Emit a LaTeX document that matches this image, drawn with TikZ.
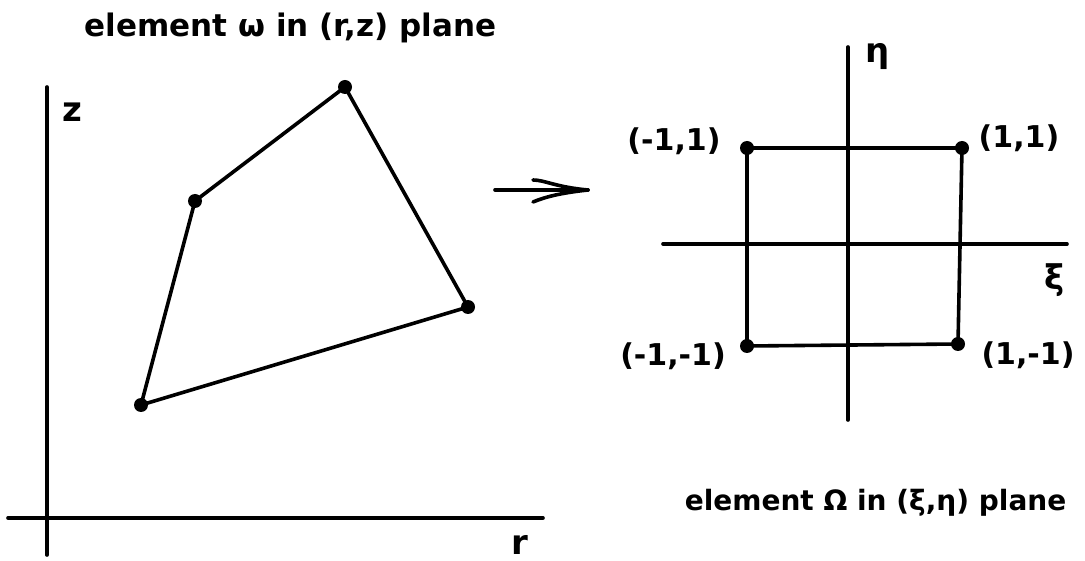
\documentclass[tikz,border=0pt]{standalone}
\usepackage{fontspec}
\setmainfont{DejaVu Sans}
\begin{document}
\begin{tikzpicture}[x=1pt,y=-1pt,line width=3.6pt,line join=round,line cap=round,
  dot/.style={circle,fill,inner sep=0pt,minimum size=14pt},
  lbl/.style={inner sep=0pt,font=\fontsize{30}{34}\selectfont\bfseries},
  ttl/.style={inner sep=0pt,anchor=base west},
  ax/.style={inner sep=0pt,font=\fontsize{34}{38}\selectfont\bfseries}]
\useasboundingbox (0,0) rectangle (1085,561);
% left axes
\coordinate (zt) at (47,87);
\coordinate (zb) at (47,555);
\coordinate (rl) at (8,518);
\coordinate (rr) at (543,518);
\draw (zt) -- (zb);
\draw (rl) -- (rr);
\node[ax,anchor=base] (zlab) at (72,122) {z};
\node[ax,anchor=base] (rlab) at (520,554) {r};
% element omega
\node[dot] (p1) at (345,87) {};
\node[dot] (p2) at (195,201) {};
\node[dot] (p3) at (141,405) {};
\node[dot] (p4) at (468,307) {};
\draw (p1.center) -- (p2.center) -- (p3.center) -- (p4.center) -- cycle;
\node[ttl,font=\fontsize{31}{34}\selectfont\bfseries] (title1) at (83,37) {element ω in (r,z) plane};
% arrow
\coordinate (a0) at (495,190);
\coordinate (a1) at (588,190);
\coordinate (au) at (533,180);
\coordinate (ad) at (533,202);
\draw (a0) -- (a1);
\draw (au) .. controls (545,180) and (555,187) .. (a1);
\draw (ad) .. controls (545,197) and (560,193) .. (a1);
% right axes
\coordinate (et) at (848,47);
\coordinate (eb) at (848,420);
\coordinate (xl) at (663,244);
\coordinate (xr) at (1067,244);
\draw (et) -- (eb);
\draw (xl) -- (xr);
\node[ax,anchor=base] (etalab) at (878,63) {η};
\node[ax] (xilab) at (1055,280) {ξ};
% reference square
\node[dot] (q1) at (747,148) {};
\node[dot] (q2) at (962,148) {};
\node[dot] (q3) at (958,344) {};
\node[dot] (q4) at (747,346) {};
\draw (q1.center) -- (q2.center) -- (q3.center) -- (q4.center) -- cycle;
\node[lbl] (l1) at (674,141) {(-1,1)};
\node[lbl] (l2) at (1019,138) {(1,1)};
\node[lbl] (l3) at (673,356) {(-1,-1)};
\node[lbl] (l4) at (1028,355) {(1,-1)};
\node[ttl,font=\fontsize{28}{32}\selectfont\bfseries] (title2) at (683,510) {element Ω in (ξ,η) plane};
\end{tikzpicture}
\end{document}
